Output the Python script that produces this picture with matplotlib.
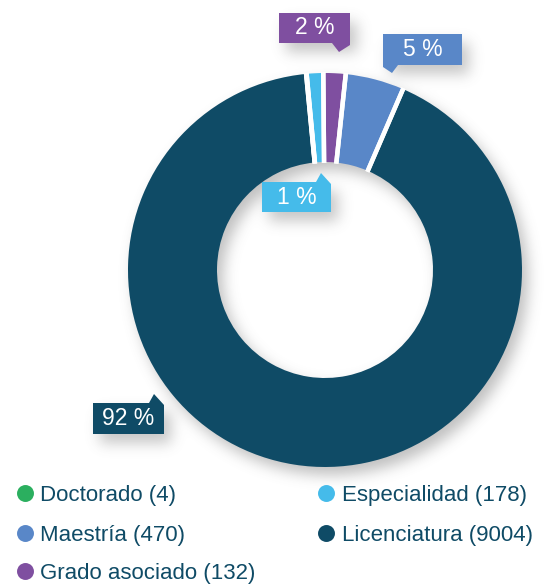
import numpy as np
import matplotlib
matplotlib.use("Agg")
import matplotlib.pyplot as plt
from matplotlib.patches import Polygon

# ---------------- data ----------------
slice_values = [4, 132, 178, 470, 9004]          # drawn order (clockwise from top)
slice_colors = ["#2BAF5F", "#45BBEA", "#7F4FA0", "#5987C8", "#0F4B66"]

legend_labels = ["Doctorado", "Maestría", "Grado asociado", "Especialidad", "Licenciatura"]
legend_counts = [4, 470, 132, 178, 9004]
legend_colors = ["#2BAF5F", "#5987C8", "#7F4FA0", "#45BBEA", "#0F4B66"]

# ---------------- layout ----------------
W, H = 548, 584
CX, CY = 325, 270          # pixel coords, y down
R_OUT, R_IN = 197, 108
TEXT_COLOR = "#0F4B66"
FONT = ["Liberation Sans", "DejaVu Sans"]

# callout boxes (x0, y0, x1, y1) in pixels (y down) and pointer side, per slice index
callouts = {
    1: ((262, 182, 331, 212), "top-right"),
    2: ((279, 13, 350, 43), "bottom-right"),
    3: ((383, 34, 462, 65), "bottom-left"),
    4: ((93, 403, 164, 434), "top-right"),
}

fig = plt.figure(figsize=(W / 100, H / 100), dpi=100)
ax = fig.add_axes([0, 0, 1, 1])


def up(y):
    return H - y


# ---------------- soft shadow ----------------
yy, xx = np.mgrid[0:H, 0:W] + 0.5
mask = np.zeros((H, W))
sdx, sdy = 6, 8
d = np.hypot(xx - (CX + sdx), yy - (CY + sdy))
mask[(d <= R_OUT) & (d >= R_IN)] = 1.0
for (x0, y0, x1, y1), _ in callouts.values():
    bm = (xx >= x0 + 7) & (xx <= x1 + 7) & (yy >= y0 + 9) & (yy <= y1 + 9)
    mask[bm] = np.maximum(mask[bm], 0.9)

sig = 7.0
k = np.arange(-3 * int(sig), 3 * int(sig) + 1)
kern = np.exp(-0.5 * (k / sig) ** 2)
kern /= kern.sum()
blur = np.apply_along_axis(lambda r: np.convolve(r, kern, mode="same"), 1, mask)
blur = np.apply_along_axis(lambda c: np.convolve(c, kern, mode="same"), 0, blur)
rgba = np.zeros((H, W, 4))
rgba[..., :3] = 0.35
rgba[..., 3] = np.clip(blur, 0, 1) * 0.38
ax.imshow(rgba, extent=(0, W, 0, H), origin="upper", zorder=0, interpolation="bilinear")

# ---------------- donut ----------------
total = sum(slice_values)
start = 95.5
wedges, _ = ax.pie(
    slice_values,
    colors=slice_colors,
    startangle=start,
    counterclock=False,
    radius=R_OUT,
    center=(CX, up(CY)),
    wedgeprops=dict(width=R_OUT - R_IN, edgecolor="none", linewidth=0),
    frame=False,
)
for w in wedges:
    w.set_zorder(2)
    # white separators at each wedge boundary
    for ang in (w.theta1, w.theta2):
        a = np.deg2rad(ang)
        ax.plot([CX + (R_IN - 1) * np.cos(a), CX + (R_OUT + 1) * np.cos(a)],
                [up(CY) + (R_IN - 1) * np.sin(a), up(CY) + (R_OUT + 1) * np.sin(a)],
                color="white", linewidth=3.2, solid_capstyle="butt", zorder=3)

# ---------------- callouts ----------------
for idx, ((x0, y0, x1, y1), side) in callouts.items():
    if side == "top-right":
        pts = [(x0, y0), (x1 - 15, y0), (x1 - 10, y0 - 9), (x1, y0 + 2), (x1, y1), (x0, y1)]
    elif side == "bottom-right":
        pts = [(x0, y0), (x1, y0), (x1, y1 + 2), (x1 - 11, y1 + 9), (x1 - 18, y1), (x0, y1)]
    else:  # bottom-left
        pts = [(x0, y0), (x1, y0), (x1, y1), (x0 + 15, y1), (x0 + 9, y1 + 8), (x0, y1 + 2)]
    poly = Polygon([(px, up(py)) for px, py in pts], closed=True,
                   facecolor=slice_colors[idx], edgecolor="none", zorder=4)
    ax.add_patch(poly)
    pct = round(slice_values[idx] / total * 100)
    ax.text((x0 + x1) / 2, up((y0 + y1) / 2), f"{pct} %", color="white",
            fontsize=16.5, family=FONT, ha="center", va="center", zorder=5)

# ---------------- legend ----------------
col_x = [24.5, 325.5]
row_y = [493, 533, 571]
positions = [(0, 0), (0, 1), (0, 2), (1, 0), (1, 1)]
for (c, r), lab, cnt, col in zip(positions, legend_labels, legend_counts, legend_colors):
    x, y = col_x[c], row_y[r]
    ax.plot([x], [up(y)], marker="o", markersize=12.2, color=col,
            markeredgewidth=0, linestyle="none", zorder=5)
    ax.text(x + 16, up(y + 8), f"{lab} ({cnt})", color=TEXT_COLOR, fontsize=16,
            family=FONT, ha="left", va="baseline", zorder=5)

ax.set_xlim(0, W)
ax.set_ylim(0, H)
ax.set_aspect("auto")
ax.axis("off")

fig.savefig("out.png", dpi=100, facecolor="white")
